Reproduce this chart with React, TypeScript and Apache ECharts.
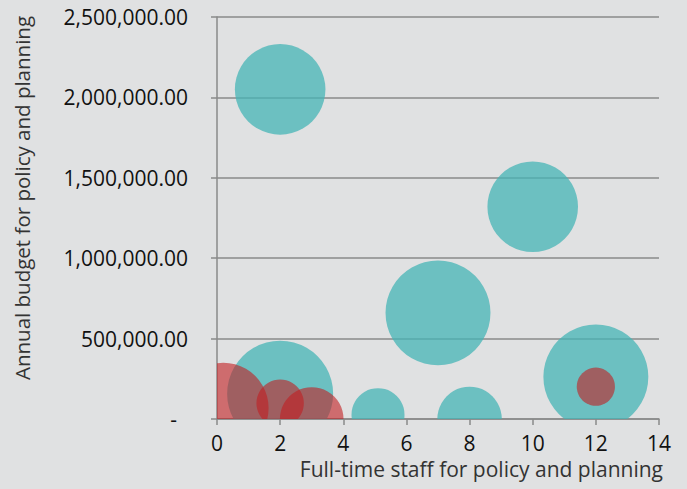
import React, { useEffect, useRef } from "react";
import * as echarts from "echarts";

// Teal series: [staff, budget, bubble weight]
const tealStaff = [2, 10, 7, 12, 2, 5.1, 8];
const tealBudget = [2050000, 1320000, 660000, 262000, 157000, 27000, 0];
const tealWeight = [73, 73, 98, 98, 100, 25, 37];

// Red series
const redStaff = [0.2, 2, 3, 12];
const redBudget = [68000, 98000, 0, 201000];
const redWeight = [73, 20, 36, 13];

const xTicks = [0, 2, 4, 6, 8, 10, 12, 14];
const yTicks = [0, 500000, 1000000, 1500000, 2000000, 2500000];

const xTitle = "Full-time staff for policy and planning";
const yTitle = "Annual budget for policy and planning";

const FONT = "Open Sans";

function build(xs: number[], ys: number[], ws: number[]) {
  return xs.map((x, i) => [x, ys[i], ws[i]]);
}

function fmtY(v: number): string {
  if (v === 0) return "-  ";
  return v.toLocaleString("en-US", { minimumFractionDigits: 2, maximumFractionDigits: 2 });
}

function bubbleSeries(data: number[][], fill: string, z: number) {
  return {
    type: "custom",
    coordinateSystem: "cartesian2d",
    clip: true,
    z,
    data,
    encode: { x: 0, y: 1 },
    renderItem: (_params: any, api: any) => {
      const p = api.coord([api.value(0), api.value(1)]);
      const r = (Math.sqrt(api.value(2) / 100) * 106) / 2;
      return {
        type: "circle",
        shape: { cx: p[0], cy: p[1], r },
        style: { fill },
      };
    },
  };
}

export default function App() {
  const ref = useRef<HTMLDivElement>(null);
  useEffect(() => {
    document.body.style.margin = "0";
    if (!ref.current) return;
    const chart = echarts.init(ref.current, undefined, { renderer: "svg" });
    chart.setOption({
      animation: false,
      backgroundColor: "#e0e1e2",
      grid: { left: 217, right: 28, top: 17, bottom: 70, containLabel: false },
      xAxis: {
        type: "value",
        min: xTicks[0],
        max: xTicks[xTicks.length - 1],
        interval: 2,
        axisLine: { show: true, lineStyle: { color: "#8a8a8a", width: 1.5 } },
        axisTick: { show: true, length: 6, lineStyle: { color: "#8a8a8a", width: 1.5 } },
        splitLine: { show: false },
        axisLabel: { color: "#111", fontFamily: FONT, fontSize: 21, margin: 13 },
        name: xTitle,
        nameLocation: "end",
        nameGap: 0,
        nameTextStyle: {
          color: "#333",
          fontFamily: FONT,
          fontSize: 21,
          align: "right",
          verticalAlign: "top",
          padding: [39, -4, 0, 0],
        },
      },
      yAxis: {
        type: "value",
        min: yTicks[0],
        max: yTicks[yTicks.length - 1],
        interval: 500000,
        axisLine: { show: true, lineStyle: { color: "#8a8a8a", width: 1.5 } },
        axisTick: { show: true, length: 6, lineStyle: { color: "#8a8a8a", width: 1.5 } },
        splitLine: { show: true, lineStyle: { color: "#8a8a8a", width: 1.5 } },
        axisLabel: {
          color: "#111",
          fontFamily: FONT,
          fontSize: 21,
          margin: 29,
          formatter: (v: number) => fmtY(v),
        },
        name: yTitle,
        nameLocation: "middle",
        nameGap: 185,
        nameRotate: 90,
        nameTextStyle: { color: "#333", fontFamily: FONT, fontSize: 20.5, padding: [0, 0, 0, 40] },
      },
      series: [
        bubbleSeries(build(tealStaff, tealBudget, tealWeight), "rgba(70,180,181,0.75)", 2),
        bubbleSeries(build(redStaff, redBudget, redWeight), "rgba(194,30,34,0.6)", 3),
      ],
    });
    return () => chart.dispose();
  }, []);
  return <div ref={ref} style={{ width: 687, height: 489 }} />;
}
